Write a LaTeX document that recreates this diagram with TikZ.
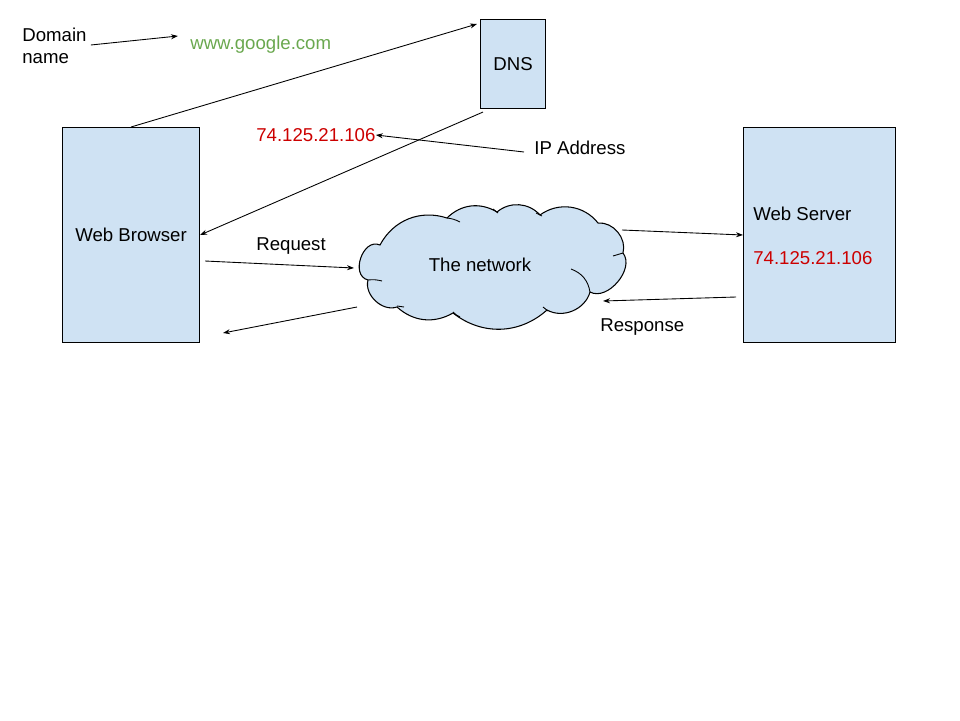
\documentclass[tikz,border=0pt]{standalone}
\usepackage{fontspec}
\setmainfont{Liberation Sans}
\usetikzlibrary{calc,arrows.meta}
\definecolor{boxblue}{RGB}{207,226,243}
\definecolor{urlgreen}{RGB}{106,168,79}
\definecolor{ipred}{RGB}{204,0,0}
\tikzset{>={Stealth[length=1.4mm,width=1mm]}}
\tikzset{ every node/.style={font=\fontsize{10.6}{12.8}\selectfont},
  machine/.style={draw,fill=boxblue,line width=0.6pt,inner sep=0pt},
  label text/.style={inner sep=0pt,anchor=west},
  link/.style={->,line width=0.5pt},
  puff/.style={bend left=#1} }

\begin{document}
\begin{tikzpicture}[x=0.02cm,y=-0.02cm]
  \useasboundingbox (0,0) rectangle (960,720);
  % boxes
  \node[machine,anchor=north west,minimum width=2.74cm,minimum height=4.3cm] (browser) at (62,127) {Web Browser};
  \node[machine,anchor=north west,minimum width=1.3cm,minimum height=1.78cm] (dns) at (480,19) {DNS};
  \node[machine,anchor=north west,minimum width=3.04cm,minimum height=4.3cm] (server) at (743,127) {};
  \node[label text] (servername) at (753,214) {Web Server};
  \node[label text,text=ipred] (serverip) at (753,258) {74.125.21.106};
  % cloud
  \draw[fill=boxblue,line width=0.6pt]
    (380,245) to[puff=40] (447,218) to[puff=38] (497,212) to[puff=44] (540,215)
    to[puff=44] (598,223) to[puff=55] (623,253) to[puff=78] (590,292)
    to[puff=52] (547,310) to[puff=40] (453,313) to[puff=36] (397,307)
    to[puff=62] (368,280) to[puff=95,looseness=1.3] cycle;
  \draw[line width=0.5pt] (368,280) to[bend left=10] (382,281)
    (447,218) to[bend left=10] (460,222)
    (493,209) -- (498,213) (536,213) -- (542,216)
    (613,256) -- (623,253)
    (571,269) to[bend left=30] (590,292)
    (543,307) -- (548,311) (453,312) to[bend right=10] (460,317)
    (397,306) -- (404,307);
  \node (net) at (480,265) {The network};
  % labels
  \node[label text,align=left] (domain) at (22,46) {Domain\\name};
  \node[label text,text=urlgreen] (url) at (190,45) {www.google.com};
  \node[label text,text=ipred] (ip) at (256,135) {74.125.21.106};
  \node[label text] (ipaddr) at (534,148) {IP Address};
  \node[label text] (request) at (256,246) {Request};
  \node[label text] (response) at (600,327) {Response};
  % free ends
  \coordinate (reqstart) at ($(browser.east)+(5,26)$);
  \coordinate (reqend) at (354,268);
  \coordinate (backstart) at (357,307);
  \coordinate (backend) at ($(browser.south east)+(23,-10)$);
  \coordinate (outstart) at (622,230);
  \coordinate (respstart) at ($(server.west)+(-7,62)$);
  \coordinate (respend) at (603,301);
  % arrows
  \draw[link] ($(domain.east)+(4,-1)$) -- ($(url.west)+(-12,-9)$);
  \draw[link] (browser.north) -- ($(dns.north west)+(-3,5)$);
  \draw[link] ($(dns.south west)+(3,3)$) -- (browser.east);
  \draw[link] ($(ipaddr.west)+(-10,4)$) -- (ip.east);
  \draw[link] (reqstart) -- (reqend);
  \draw[link] (backstart) -- (backend);
  \draw[link] (outstart) -- (server.west);
  \draw[link] (respstart) -- (respend);
\end{tikzpicture}
\end{document}
